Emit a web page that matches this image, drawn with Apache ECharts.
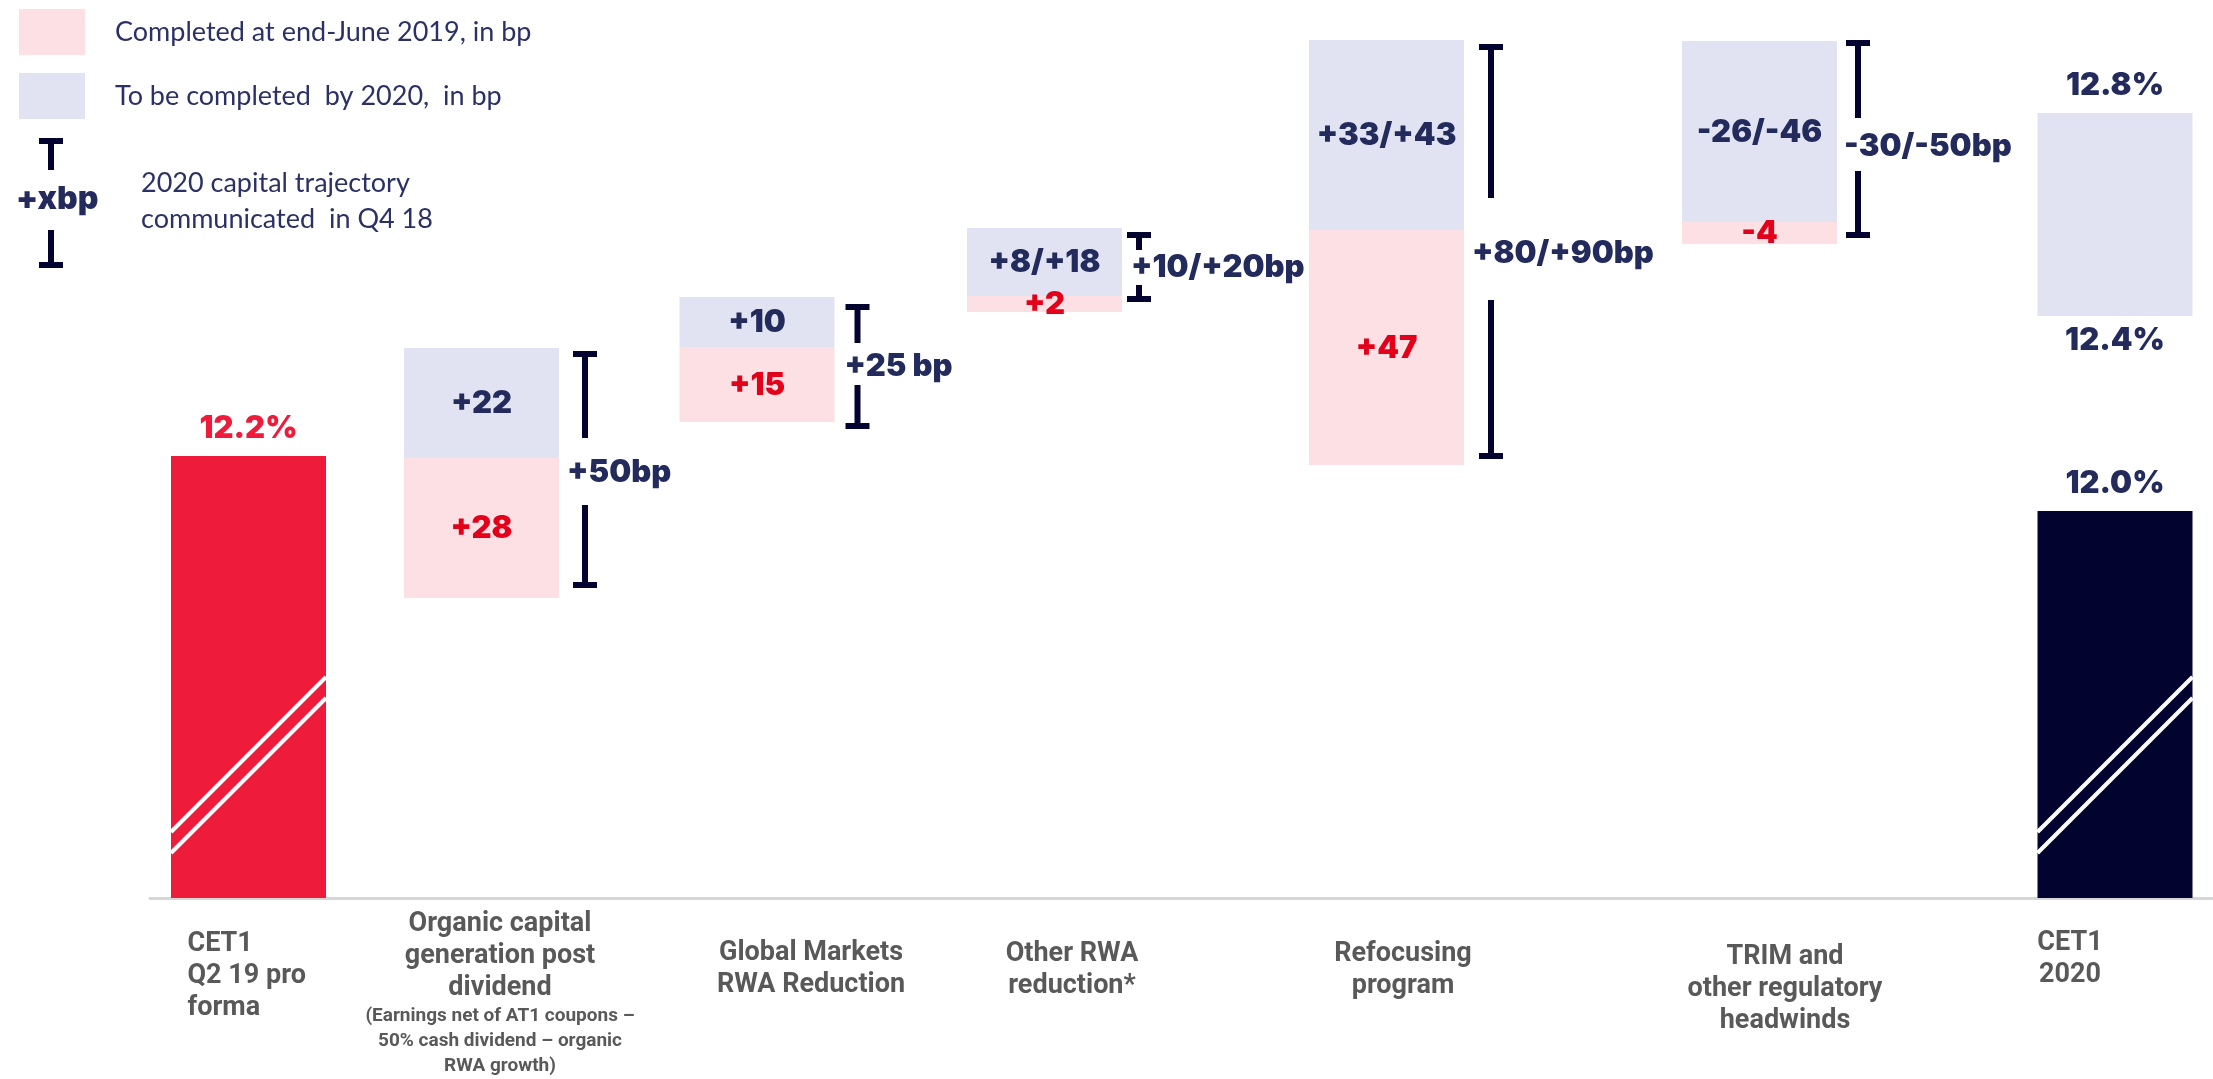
<!DOCTYPE html>
<html><head><meta charset="utf-8">
<script src="https://cdn.jsdelivr.net/npm/echarts@6/dist/echarts.min.js"></script>
<style>html,body{margin:0;padding:0;background:#fff}#c{width:2213px;height:1079px}</style>
</head><body><div id="c"></div>
<script>
// ---------------- data ----------------
const categories = [
  'CET1\nQ2 19 pro\nforma',
  'Organic capital\ngeneration post\ndividend',
  'Global Markets\nRWA Reduction',
  'Other RWA\nreduction*',
  'Refocusing\nprogram',
  'TRIM and\nother regulatory\nheadwinds',
  'CET1\n2020'
];
const categoryNotes = ['', '(Earnings net of AT1 coupons –\n50% cash dividend – organic\nRWA growth)', '', '', '', '', ''];
const seriesNames = ['Completed at end-June 2019, in bp', 'To be completed  by 2020,  in bp'];

const solidLabels     = ['12.2%', '', '', '', '', '', '12.0%'];
const completedLabels = ['', '+28', '+15', '+2', '+47', '-4', ''];
const pendingLabels   = ['', '+22', '+10', '+8/+18', '+33/+43', '-26/-46', '12.8%'];
const pendingLowLabels = ['', '', '', '', '', '', '12.4%'];
const trajectoryLabels = ['+50bp', '+25 bp', '+10/+20bp', '+80/+90bp', '-30/-50bp'];
const trajectoryBars   = [1, 2, 3, 4, 5];

// drawn heights (bp-scale units)
const solidHeight     = [88.4, 0, 0, 0, 0, 0, 77.4];
const floatBase       = [0, 60, 95.2, 117.2, 86.6, 130.8, 39];
const completedHeight = [0, 28, 15, 3.2, 47, 4.4, 0];
const pendingHeight   = [0, 22, 10, 13.6, 38, 36.2, 40.6];

// trajectory brackets: low cap, end of low stem, start of high stem, high cap, label level
const bracketLow     = [62, 93.8, 119.2, 87.8, 132];
const bracketGapLow  = [78.6, 102.6, 122.6, 119.6, 145.4];
const bracketGapHigh = [92, 111, 129.6, 140, 156];
const bracketHigh    = [109.4, 118.8, 133.2, 170.8, 171.6];
const bracketLabelAt = [85, 106.2, 126, 128.8, 150.2];

// ---------------- layout ----------------
const barSlots   = [98.5, 331.5, 607, 894.5, 1236.5, 1609.5, 1965];
const labelSlots = [86.5, 350, 661, 922, 1253, 1635, 1920];
const labelDrop  = [20, 0, 29, 30, 30, 33, 19];
const bracketOffset = [26, 23, 17, 27, 21];
const bracketTextShift = [-18, -13, -8, -19, -14];
const stripeBars = [0, 6];
const stripes = [[13.2, 44.2], [9, 40]];
const BAR_W = 155;

const RED = '#EE1B3B', NAVY = '#03032F', PINK = '#FDE0E3', LILAC = '#E1E3F2';
const TXT_NAVY = '#232A5C', TXT_RED = '#E2001A';
const NUM_FONT = 'Inter, Roboto, sans-serif';
const CAT_FONT = 'Roboto, sans-serif';

// cumulative segment bounds
const solidLow = solidHeight.map(() => 0);
const pinkLow = solidHeight.map((s, i) => s + floatBase[i]);
const pinkHigh = pinkLow.map((v, i) => v + completedHeight[i]);
const blueLow = pinkHigh;
const blueHigh = blueLow.map((v, i) => v + pendingHeight[i]);

const chart = echarts.init(document.getElementById('c'));

function numText(text, x, y, color, vAlign) {
  return {type: 'text', silent: true, z2: 10, style: {text: text, x: x, y: y, align: 'center', verticalAlign: vAlign,
    fill: color, fontFamily: NUM_FONT, fontWeight: 900, fontSize: 31}};
}

function segmentSeries(name, lows, highs, color, labelsIn) {
  return {
    name: name, type: 'custom', silent: true,
    itemStyle: {color: color},
    data: barSlots.map((x, i) => [x, lows[i], highs[i], i]).filter(d => d[2] > d[1]),
    renderItem: function (params, api) {
      const i = api.value(3);
      const top = api.coord([api.value(0), api.value(2)]);
      const bot = api.coord([api.value(0), api.value(1)]);
      const fill = typeof color === 'function' ? color(i) : color;
      const children = [{type: 'rect', shape: {x: top[0] - BAR_W / 2, y: top[1], width: BAR_W, height: bot[1] - top[1]}, style: {fill: fill}}];
      labelsIn(i, top, bot, children);
      return {type: 'group', children: children};
    }
  };
}

const rich = {
  c: {fontFamily: CAT_FONT, fontWeight: 'bold', fontSize: 27, color: '#595959', lineHeight: 32, align: 'center'},
  l: {fontFamily: CAT_FONT, fontWeight: 'bold', fontSize: 27, color: '#595959', lineHeight: 32, align: 'left', width: 98},
  n: {fontFamily: CAT_FONT, fontWeight: 'bold', fontSize: 19, color: '#595959', lineHeight: 25, align: 'center'}
};
labelDrop.forEach((d, i) => { if (d) rich['sp' + i] = {fontSize: 1, lineHeight: d}; });

const option = {
  animation: false,
  backgroundColor: '#ffffff',
  grid: {left: 150, right: 0, top: 18, bottom: 181, containLabel: false},
  legend: {
    left: 14, top: 4, orient: 'vertical', icon: 'rect',
    itemWidth: 66, itemHeight: 46, itemGap: 18, selectedMode: false,
    data: seriesNames,
    textStyle: {fontFamily: 'Lato, "Open Sans", sans-serif', fontSize: 27, color: '#2B3164', padding: [0, 0, 0, 25]}
  },
  xAxis: {
    type: 'value', min: 0, max: 2063,
    splitLine: {show: false}, axisTick: {show: false},
    axisLine: {show: true, lineStyle: {color: '#D6D6D6', width: 3}},
    axisLabel: {
      show: true, customValues: labelSlots, margin: 10, hideOverlap: false,
      verticalAlign: 'top',
      formatter: function (val) {
        const i = labelSlots.indexOf(val);
        if (i < 0) return '';
        let s = labelDrop[i] ? '{sp' + i + '|\u00a0}\n' : '';
        const st = i === 0 ? 'l' : 'c';
        s += categories[i].split('\n').map(t => '{' + st + '|' + t + '}').join('\n');
        if (categoryNotes[i]) s += '\n' + categoryNotes[i].split('\n').map(t => '{n|' + t + '}').join('\n');
        return s;
      },
      rich: rich
    }
  },
  yAxis: {type: 'value', min: 0, max: 176, show: false, splitLine: {show: false}},
  series: [
    segmentSeries('CET1', solidLow, solidHeight, i => (i === 0 ? RED : NAVY), function (i, top, bot, ch) {
      if (solidLabels[i]) ch.push(numText(solidLabels[i], top[0], top[1] - 12, i === 0 ? RED : TXT_NAVY, 'bottom'));
    }),
    segmentSeries(seriesNames[0], pinkLow, pinkHigh, PINK, function (i, top, bot, ch) {
      if (completedLabels[i]) ch.push(numText(completedLabels[i], top[0], (top[1] + bot[1]) / 2 + 1, TXT_RED, 'middle'));
    }),
    segmentSeries(seriesNames[1], blueLow, blueHigh, LILAC, function (i, top, bot, ch) {
      if (pendingLowLabels[i]) {
        ch.push(numText(pendingLabels[i], top[0], top[1] - 12, TXT_NAVY, 'bottom'));
        ch.push(numText(pendingLowLabels[i], top[0], bot[1] + 9, TXT_NAVY, 'top'));
      } else if (pendingLabels[i]) {
        ch.push(numText(pendingLabels[i], top[0], (top[1] + bot[1]) / 2 + 1, TXT_NAVY, 'middle'));
      }
    }),
    {
      type: 'custom', silent: true, z: 5,
      data: stripeBars.map(b => [barSlots[b], solidHeight[b]]),
      renderItem: function (params, api) {
        const cx = api.coord([api.value(0), 0])[0];
        const l = cx - BAR_W / 2, r = cx + BAR_W / 2;
        return {
          type: 'group',
          children: stripes.map(s => ({
            type: 'line',
            shape: {x1: l, y1: api.coord([0, s[0]])[1], x2: r, y2: api.coord([0, s[1]])[1]},
            style: {stroke: '#ffffff', lineWidth: 4}
          }))
        };
      }
    },
    {
      type: 'custom', silent: true, z: 6,
      data: trajectoryBars.map((b, k) => [barSlots[b], bracketLow[k], bracketGapLow[k], bracketGapHigh[k], bracketHigh[k], bracketLabelAt[k], k]),
      renderItem: function (params, api) {
        const k = api.value(6);
        const x = api.coord([api.value(0), 0])[0] + BAR_W / 2 + bracketOffset[k];
        const yLow = api.coord([0, api.value(1)])[1];
        const yGL = api.coord([0, api.value(2)])[1];
        const yGH = api.coord([0, api.value(3)])[1];
        const yHigh = api.coord([0, api.value(4)])[1];
        const yLab = api.coord([0, api.value(5)])[1];
        const st = {fill: NAVY};
        return {
          type: 'group',
          children: [
            {type: 'rect', shape: {x: x - 12, y: yHigh, width: 24, height: 6}, style: st},
            {type: 'rect', shape: {x: x - 3, y: yHigh, width: 6, height: yGH - yHigh}, style: st},
            {type: 'rect', shape: {x: x - 3, y: yGL, width: 6, height: yLow - yGL}, style: st},
            {type: 'rect', shape: {x: x - 12, y: yLow - 6, width: 24, height: 6}, style: st},
            {type: 'text', style: {text: trajectoryLabels[k], x: x + bracketTextShift[k], y: yLab,
              align: 'left', verticalAlign: 'middle', fill: TXT_NAVY,
              fontFamily: NUM_FONT, fontWeight: 900, fontSize: 31}}
          ]
        };
      }
    }
  ],
  graphic: [
    {type: 'rect', left: 39, top: 138, shape: {width: 24, height: 6}, style: {fill: NAVY}},
    {type: 'rect', left: 48, top: 138, shape: {width: 6, height: 32}, style: {fill: NAVY}},
    {type: 'text', left: 16, top: 183, style: {text: '+xbp', fill: TXT_NAVY, fontFamily: NUM_FONT, fontWeight: 900, fontSize: 32}},
    {type: 'rect', left: 48, top: 230, shape: {width: 6, height: 38}, style: {fill: NAVY}},
    {type: 'rect', left: 39, top: 262, shape: {width: 24, height: 6}, style: {fill: NAVY}},
    {type: 'text', left: 141, top: 170, style: {text: '2020 capital trajectory', fill: '#2B3164', fontFamily: 'Lato, "Open Sans", sans-serif', fontSize: 27}},
    {type: 'text', left: 141, top: 206, style: {text: 'communicated  in Q4 18', fill: '#2B3164', fontFamily: 'Lato, "Open Sans", sans-serif', fontSize: 27}}
  ]
};
chart.setOption(option);
</script>
</body></html>
